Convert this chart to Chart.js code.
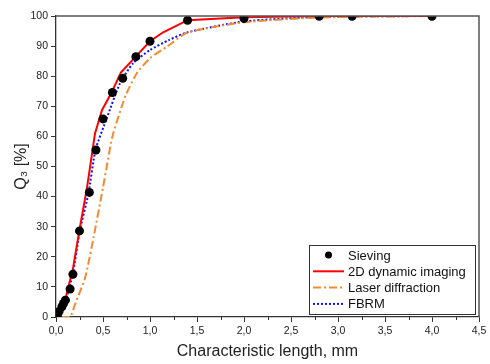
<!DOCTYPE html>
<html lang="en">
<head>
  <meta charset="UTF-8">
  <title>Q3 vs characteristic length</title>
  <style>
    body { margin: 0; background: #fff; }
    #chartBox { width: 490px; height: 364px; }
  </style>
  <script src="https://cdn.jsdelivr.net/npm/chart.js"></script>
</head>
<body>
  <div id="chartBox">
    <canvas id="myChart" width="490" height="364"></canvas>
  </div>

  <script>
    // Sieving (points)
    const sievingX = [0.0125, 0.032, 0.063, 0.08, 0.1, 0.15, 0.18, 0.25, 0.355, 0.425, 0.5, 0.6, 0.71, 0.85, 1.0, 1.4, 2.0, 2.8, 3.15, 4.0];
    const sievingY = [0.3, 1.8, 3.4, 4.5, 5.6, 9.3, 14.2, 28.6, 41.4, 55.5, 65.8, 74.6, 79.3, 86.5, 91.6, 98.6, 99.2, 99.9, 99.9, 99.9];

    // 2D dynamic imaging
    const imagingX = [0.02, 0.1, 0.18, 0.25, 0.33, 0.415, 0.49, 0.59, 0.69, 0.85, 1.0, 1.14, 1.4, 2.0, 2.8, 4.0];
    const imagingY = [0, 6, 16, 29, 43, 61, 68.8, 74.5, 81.2, 86.6, 91.6, 94.6, 98.6, 99.6, 100, 100];

    // Laser diffraction
    const laserX = [0.06, 0.15, 0.2, 0.25, 0.3, 0.33, 0.4, 0.5, 0.54, 0.6, 0.7, 0.75, 0.86, 1.0, 1.18, 1.4, 2.0, 2.8, 4.0];
    const laserY = [0, 0, 4, 8, 12, 15.6, 26.5, 43, 50, 60, 70, 74.3, 81, 86, 89.8, 94.5, 97.9, 99.5, 100];

    // FBRM
    const fbrmX = [0.05, 0.1, 0.18, 0.255, 0.345, 0.42, 0.54, 0.68, 0.82, 1.0, 1.2, 1.4, 2.0, 2.8, 4.0];
    const fbrmY = [0, 5, 14.5, 28.9, 41, 55.5, 66, 77.6, 84.3, 88.7, 92, 94.6, 98.2, 99.7, 100];

    const seriesNames = ['Sieving', '2D dynamic imaging', 'Laser diffraction', 'FBRM'];

    const FONT = "'Liberation Sans', Arial, sans-serif";
    const AXIS_COLOR = '#333';

    function pairs(xs, ys) {
      return xs.map((x, i) => ({ x: x, y: ys[i] }));
    }

    // frame on top/right + minor x ticks
    const framePlugin = {
      id: 'frame',
      afterDraw(chart) {
        const { ctx, chartArea: a, scales } = chart;
        ctx.save();
        ctx.strokeStyle = '#555';
        ctx.lineWidth = 1.5;
        ctx.beginPath();
        ctx.moveTo(a.left, a.top);
        ctx.lineTo(a.right, a.top);
        ctx.lineTo(a.right, a.bottom);
        ctx.stroke();

        // minor ticks on x axis
        ctx.strokeStyle = AXIS_COLOR;
        ctx.lineWidth = 1;
        for (let v = 0.25; v < 4.5; v += 0.5) {
          const px = Math.round(scales.x.getPixelForValue(v)) + 0.5;
          ctx.beginPath();
          ctx.moveTo(px, a.bottom);
          ctx.lineTo(px, a.bottom + 3);
          ctx.stroke();
        }
        ctx.restore();
      }
    };

    // legend box inside the plot, bottom right
    const legendPlugin = {
      id: 'boxLegend',
      afterDraw(chart) {
        const { ctx, chartArea: a } = chart;
        const w = 166, h = 69;
        const left = a.right - 4 - w;
        const top = a.bottom - 3 - h;
        ctx.save();
        ctx.fillStyle = '#fff';
        ctx.fillRect(left, top, w, h);
        ctx.strokeStyle = '#333';
        ctx.lineWidth = 1;
        ctx.strokeRect(left + 0.5, top + 0.5, w, h);

        ctx.font = '13px ' + FONT;
        ctx.textBaseline = 'middle';
        chart.data.datasets.forEach((ds, i) => {
          const y = top + 10 + i * 16.3;
          const x0 = left + 4, x1 = left + 35;
          if (ds.showLine === false) {
            ctx.fillStyle = '#000';
            ctx.beginPath();
            ctx.arc((x0 + x1) / 2, y, 3.5, 0, Math.PI * 2);
            ctx.fill();
          } else {
            ctx.strokeStyle = ds.borderColor;
            ctx.lineWidth = ds.borderWidth;
            ctx.setLineDash(ds.borderDash || []);
            ctx.beginPath();
            ctx.moveTo(x0, y);
            ctx.lineTo(x1, y);
            ctx.stroke();
            ctx.setLineDash([]);
          }
          ctx.fillStyle = '#111';
          ctx.fillText(ds.label, left + 39, y + 1);
        });
        ctx.restore();
      }
    };

    const ctx = document.getElementById('myChart').getContext('2d');

    new Chart(ctx, {
      type: 'scatter',
      data: {
        datasets: [
          {
            label: seriesNames[0],
            data: pairs(sievingX, sievingY),
            showLine: false,
            pointRadius: 4.5,
            pointBackgroundColor: '#000',
            pointBorderColor: '#000',
            pointBorderWidth: 0
          },
          {
            label: seriesNames[1],
            data: pairs(imagingX, imagingY),
            showLine: true,
            borderColor: '#ff0000',
            borderWidth: 2,
            pointRadius: 0,
            tension: 0
          },
          {
            label: seriesNames[2],
            data: pairs(laserX, laserY),
            showLine: true,
            borderColor: '#f28a30',
            borderWidth: 2,
            borderDash: [8, 3, 2, 3],
            pointRadius: 0,
            tension: 0.2
          },
          {
            label: seriesNames[3],
            data: pairs(fbrmX, fbrmY),
            showLine: true,
            borderColor: '#1010ff',
            borderWidth: 2,
            borderDash: [2, 2],
            pointRadius: 0,
            tension: 0.2
          }
        ]
      },
      options: {
        responsive: false,
        animation: false,
        layout: { padding: { top: 16, right: 11, left: 0, bottom: 0 } },
        plugins: {
          legend: { display: false },
          tooltip: { enabled: false }
        },
        scales: {
          x: {
            type: 'linear',
            min: 0,
            max: 4.5,
            afterFit: s => { s.height = 47; },
            border: { color: AXIS_COLOR, width: 1.3 },
            grid: { drawOnChartArea: false, drawTicks: true, tickLength: 5, color: AXIS_COLOR },
            ticks: {
              stepSize: 0.5,
              color: '#222',
              padding: 3,
              maxRotation: 0,
              font: { family: FONT, size: 10.5 },
              callback: v => v.toFixed(1).replace('.', ',')
            },
            title: {
              display: true,
              text: 'Characteristic length, mm',
              color: '#222',
              font: { family: FONT, size: 16 },
              padding: { top: 0, bottom: 3 }
            }
          },
          y: {
            min: 0,
            max: 100,
            afterFit: s => { s.width = 56; },
            border: { color: AXIS_COLOR, width: 1.3 },
            grid: { drawOnChartArea: false, drawTicks: true, tickLength: 5, color: AXIS_COLOR },
            ticks: {
              stepSize: 10,
              color: '#222',
              padding: 3,
              font: { family: FONT, size: 10.5 }
            },
            title: {
              display: true,
              text: 'Q\u2083 [%]',
              color: '#222',
              font: { family: FONT, size: 16 },
              padding: { top: 12, bottom: 0 }
            }
          }
        }
      },
      plugins: [framePlugin, legendPlugin]
    });
  </script>
</body>
</html>
